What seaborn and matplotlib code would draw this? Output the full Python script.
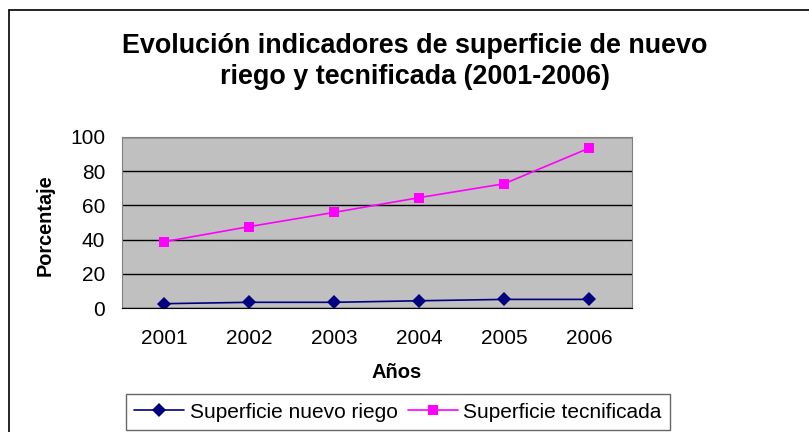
import matplotlib
matplotlib.use("Agg")
import matplotlib.pyplot as plt
from matplotlib.lines import Line2D
import seaborn as sns
import pandas as pd
import numpy as np

years = ["2001", "2002", "2003", "2004", "2005", "2006"]
nuevo_riego = [2.7, 3.5, 3.5, 4.4, 5.2, 5.2]
tecnificada = [38.8, 47.6, 55.9, 64.5, 72.6, 93.4]
series_names = ["Superficie nuevo riego", "Superficie tecnificada"]
colors = {series_names[0]: "#000080", series_names[1]: "#FF00FF"}
markers = {series_names[0]: "D", series_names[1]: "s"}

sns.set_style("white")
plt.rcParams['font.family'] = ['Liberation Sans', 'DejaVu Sans']
plt.rcParams['text.color'] = 'black'
plt.rcParams['axes.labelcolor'] = 'black'
plt.rcParams['xtick.color'] = 'black'
plt.rcParams['ytick.color'] = 'black'

df = pd.DataFrame({
    "x": list(range(len(years))) * 2,
    "value": nuevo_riego + tecnificada,
    "serie": [series_names[0]] * len(years) + [series_names[1]] * len(years),
})

fig = plt.figure(figsize=(8.09, 4.32), dpi=100)
ax = fig.add_axes([0.1504, 0.2863, 0.6306, 0.3973])
ax.set_facecolor("#C0C0C0")

sns.lineplot(data=df, x="x", y="value", hue="serie", style="serie",
             palette=colors, markers=markers,
             dashes=False, markersize=7.5, linewidth=1.2, markeredgewidth=0,
             ax=ax, legend=False)

ax.set_xlim(-0.5, 5.5)
ax.set_ylim(0, 100)
ax.set_yticks([0, 20, 40, 60, 80, 100])
ax.yaxis.grid(True, color="black", linewidth=1)
ax.set_axisbelow(True)
ax.set_xticks(np.arange(-0.5, 6, 1))
ax.set_xticklabels([])
ax.set_xticks(range(len(years)), minor=True)
ax.set_xticklabels(years, minor=True)
ax.tick_params(axis="x", which="major", length=4.5, direction="out", color="black", width=1)
ax.tick_params(axis="x", which="minor", length=0, labelsize=15, pad=15)
ax.tick_params(axis="y", length=5, direction="out", labelsize=15, color="black", width=1, pad=7)
for s in ["top", "right", "left"]:
    ax.spines[s].set_color("#808080")
ax.spines["bottom"].set_color("black")
ax.set_xlabel("")
ax.set_ylabel("")

fig.text(397 / 809, 1 - 373 / 432, "Años", ha="center", va="center",
         fontsize=14.5, fontweight="bold")
fig.text(45 / 809, 1 - 225 / 432, "Porcentaje", ha="center", va="center",
         rotation=90, fontsize=14.3, fontweight="bold")

fig.text(415 / 809, 1 - 61.5 / 432, "Evolución indicadores de superficie de nuevo\nriego y tecnificada (2001-2006)",
         ha="center", va="center", fontsize=19.4, fontweight="bold", linespacing=1.22)

handles = [
    Line2D([], [], color=colors[n], marker=markers[n], markersize=7, markeredgewidth=0, linewidth=1.2)
    for n in series_names
]
leg = fig.legend(handles, series_names, loc="center", bbox_to_anchor=(398 / 809, 1 - 412 / 432),
                 ncol=2, fontsize=15, frameon=True, fancybox=False, edgecolor="#404040",
                 handlelength=2.4, handletextpad=0.25, columnspacing=0.5, borderpad=0.4,
                 borderaxespad=0)
leg.get_frame().set_linewidth(1)

fig.add_artist(Line2D([9 / 809, 9 / 809], [0, 1 - 10 / 432], transform=fig.transFigure,
                      color="black", linewidth=1.2))
fig.add_artist(Line2D([9 / 809, 1], [1 - 10 / 432, 1 - 10 / 432], transform=fig.transFigure,
                      color="black", linewidth=1.2))

fig.savefig("out.png", dpi=100)
